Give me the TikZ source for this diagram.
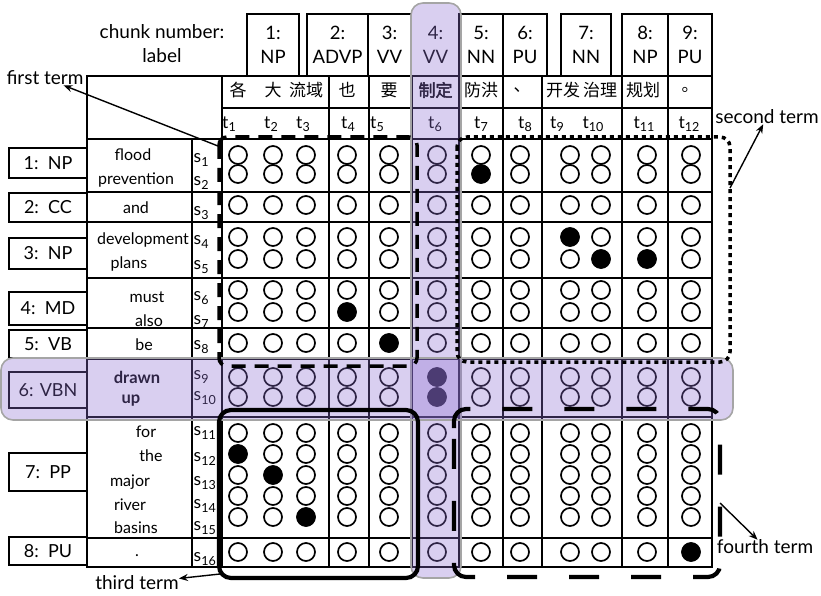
\documentclass[tikz,border=0pt]{standalone}
\usepackage{fontspec}
\setmainfont{Lato}
\newfontfamily\cjk[AutoFakeBold=2.5]{Noto Sans CJK SC}
\usetikzlibrary{arrows.meta}
\definecolor{bandpurple}{RGB}{140,110,210}
\definecolor{bandedge}{RGB}{165,165,165}
\newcommand{\sub}[1]{\raisebox{-0.35ex}{\fontsize{12.5}{12.5}\selectfont #1}}

\begin{document}
\begin{tikzpicture}[x=1pt, y=-1pt, every node/.style={font=\fontsize{16}{18}\selectfont, inner sep=0pt},
  gridline/.style={line width=1.7pt},
  chunkbox/.style={draw, line width=1.4pt, align=center, font=\fontsize{18.5}{24}\selectfont, minimum height=62pt},
  rowbox/.style={draw, line width=1.4pt, minimum width=78pt, font=\fontsize{18}{20}\selectfont},
  idx/.style={font=\fontsize{17.5}{18}\selectfont},
  tokring/.style={line width=1.7pt},
  band/.style={fill=bandpurple, fill opacity=0.33, draw=bandedge, line width=1.6pt, rounded corners=12pt},
  termone/.style={line width=3.5pt, dash pattern=on 14pt off 9pt, rounded corners=8pt},
  termtwo/.style={line width=3.5pt, dash pattern=on 4pt off 4pt, rounded corners=10pt},
  termthree/.style={line width=4.2pt, rounded corners=12pt},
  termfour/.style={line width=4.2pt, dash pattern=on 30pt off 32pt, rounded corners=12pt},
  termarrow/.style={line width=1.4pt, -{Stealth[length=9pt,width=7pt]}},
  termlabel/.style={font=\fontsize{19}{20}\selectfont}]
\useasboundingbox (0,0) rectangle (821,596);

% table grid
\draw[gridline] (87,76) rectangle (712,567);
\draw[line width=2.6pt] (87,139) -- (712,139);
\draw[gridline] (192,139) -- (192,567);
\foreach \x in {222,329,369,412,459,503,542,622,668} { \draw[gridline] (\x,76) -- (\x,567); }
\draw[gridline] (222,108) -- (712,108);
\foreach \y in {192,222,278,328,359,417,538} { \draw[gridline] (87,\y) -- (712,\y); }
\draw[line width=2.4pt] (412,76) rectangle (459,139);
\draw[line width=2.4pt] (412,108) -- (459,108);

% chunk headers
\node[align=center, font=\fontsize{19}{24}\selectfont] (chunkhdr) at (162,44) {chunk number:\\label};
\node[chunkbox, minimum width=52pt] (cNP1) at (273,45) {1:\\NP};
\node[chunkbox, minimum width=61pt] (cADVP) at (337.5,45) {2:\\ADVP};
\node[chunkbox, minimum width=43pt] (cVV1) at (389.5,45) {3:\\VV};
\node[align=center, font=\fontsize{18.5}{24}\selectfont] (cVV2) at (435.5,45) {4:\\VV};
\node[chunkbox, minimum width=44pt] (cNN1) at (481,45) {5:\\NN};
\node[chunkbox, minimum width=44pt] (cPU1) at (525,45) {6:\\PU};
\node[chunkbox, minimum width=50pt] (cNN2) at (586,45) {7:\\NN};
\node[chunkbox, minimum width=46pt] (cNP2) at (645,45) {8:\\NP};
\node[chunkbox, minimum width=44pt] (cPU2) at (690,45) {9:\\PU};

% target words
\begin{scope}[every node/.style={font=\cjk\fontsize{17}{19}\selectfont, inner sep=0pt}]
\node (zge) at (238,90) {各};
\node (zda) at (273,90) {大};
\node (zliuyu) at (306,90) {流域};
\node (zye) at (347,90) {也};
\node (zyao) at (389,90) {要};
\node[font=\cjk\bfseries\fontsize{17}{19}\selectfont] (zzhiding) at (435.5,90) {制定};
\node (zfanghong) at (481,90) {防洪};
\node (zdun) at (522,90) {、};
\node (zkaifa) at (563,90) {开发};
\node (zzhili) at (600,90) {治理};
\node (zguihua) at (643,90) {规划};
\node (zju) at (690,90) {。};
\end{scope}
\foreach \i/\x in {1/229,2/271,3/303,4/348,5/377,6/435,7/481,8/525,9/557,10/593,11/644,12/689}
  { \node[idx] (t\i) at (\x,124) {t\sub{\i}}; }

% source chunks
\node[rowbox, minimum height=30pt] (rNP1) at (48,163) {1:~~NP};
\node[rowbox, minimum height=29pt] (rCC) at (48,207.5) {2:~~CC};
\node[rowbox, minimum height=31pt] (rNP2) at (48,253.5) {3:~~NP};
\node[rowbox, minimum height=33pt] (rMD) at (48,308.5) {4:~~MD};
\node[rowbox, minimum height=28pt] (rVB) at (48,344) {5:~~VB};
\node[rowbox, minimum height=36pt] (rVBN) at (48,390) {6: VBN};
\node[rowbox, minimum height=38pt] (rPP) at (48,472) {7:~~PP};
\node[rowbox, minimum height=28pt] (rPU) at (48,551) {8:~~PU};

% source words
\node (wflood) at (133,155) {flood};
\node (wprevention) at (136,180) {prevention};
\node (wand) at (136,208) {and};
\node (wdevelopment) at (143,240) {development};
\node (wplans) at (129,264) {plans};
\node (wmust) at (147,297) {must};
\node (walso) at (149,321) {also};
\node (wbe) at (144,345) {be};
\node[font=\bfseries\fontsize{16.5}{18}\selectfont] (wdrawn) at (137,377) {drawn};
\node[font=\bfseries\fontsize{16.5}{18}\selectfont] (wup) at (131,401) {up};
\node (wfor) at (146,432) {for};
\node (wthe) at (151,456) {the};
\node (wmajor) at (130,482) {major};
\node (wriver) at (130,505) {river};
\node (wbasins) at (136,528) {basins};
\node (wstop) at (137,556) {.};
\foreach \i/\y in {1/160,2/183,3/213,4/242,5/267,6/298,7/322,8/347,9/377,10/398,11/433,12/459,13/483,14/506,15/528,16/559}
  { \node[idx, anchor=west] (s\i) at (193.5,\y) {s\sub{\i}}; }

% alignment matrix
\foreach \x in {238,273,306,347,389,437,481,520,570,601,647,691}
  \foreach \y in {155,174,205,237,259,290,312,343,377,397,433,454,475,496,517,552}
    { \draw[tokring] (\x,\y) circle (9pt); }
\foreach \x/\y in {481/174,570/237,601/259,647/259,347/312,389/343,437/377,437/397,238/454,273/475,306/517,691/552}
  { \fill (\x,\y) circle (9.5pt); }

% highlighted chunk pair
\draw[band] (411,3) rectangle (461,578);
\draw[band] (1,358) rectangle (733,420);

% terms
\draw[termone] (219,137) rectangle (417,366);
\draw[termtwo] (457,137) rectangle (730,362);
\draw[termthree] (219,410) rectangle (418,578);
\draw[termfour] (454,440) -- (454,409) -- (720,409) -- (720,577) -- (454,577) -- cycle;
\node[termlabel] (firstlbl) at (45,78) {first term};
\node[termlabel] (secondlbl) at (767,117) {second term};
\node[termlabel] (thirdlbl) at (137,583) {third term};
\node[termlabel] (fourthlbl) at (765,547) {fourth term};
\coordinate (firstcorner) at (218,146);
\coordinate (secondedge) at (730,188);
\coordinate (thirdedge) at (220,574);
\coordinate (fourthedge) at (720,503);
\draw[termarrow] (firstcorner) -- (firstlbl);
\draw[termarrow] (secondedge) -- (secondlbl);
\draw[termarrow] (thirdedge) -- (thirdlbl);
\draw[termarrow] (fourthedge) -- (fourthlbl);
\end{tikzpicture}
\end{document}
